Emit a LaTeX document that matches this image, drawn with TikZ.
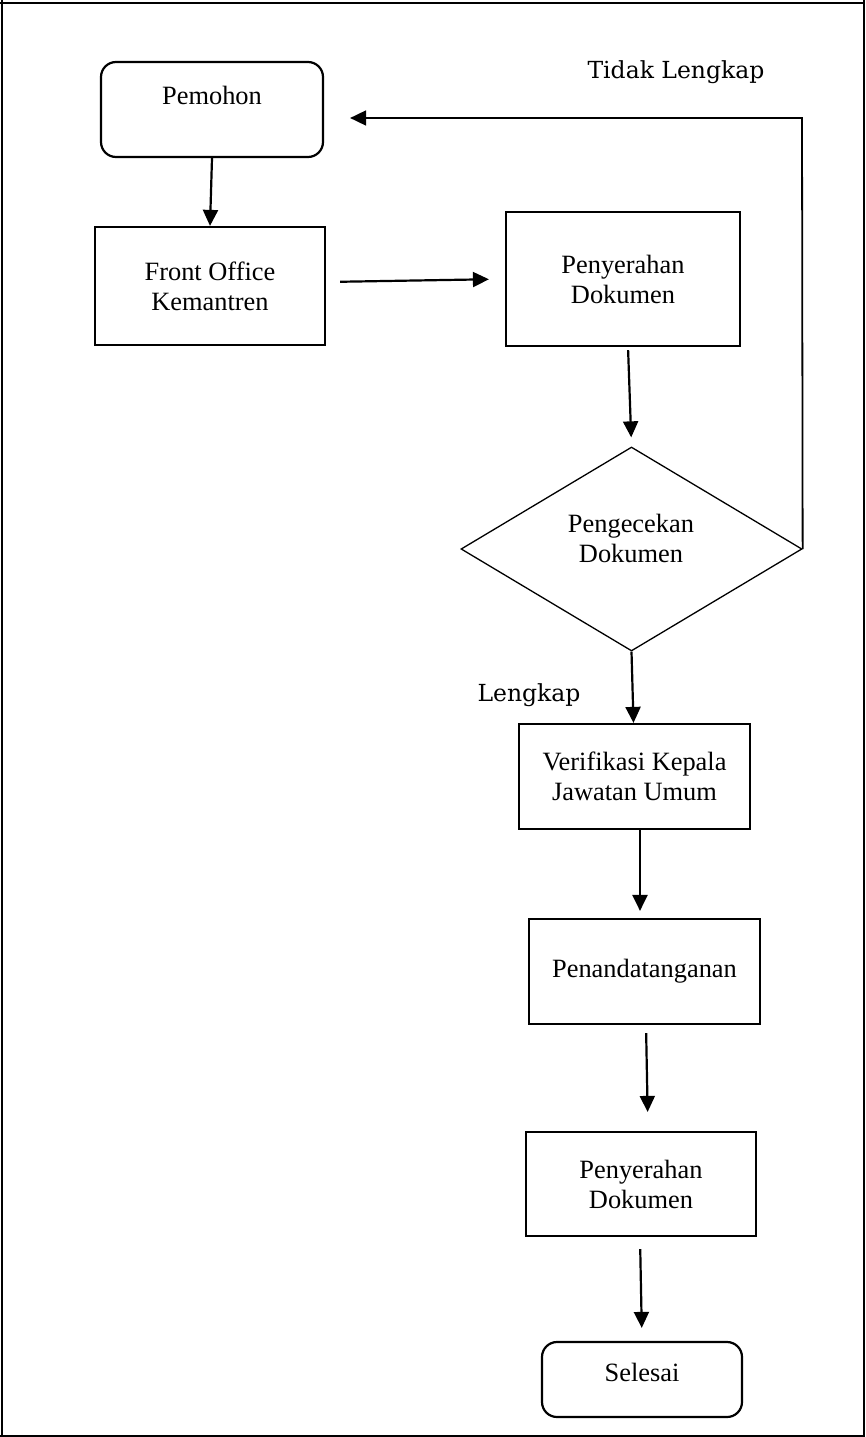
\documentclass[tikz,border=0pt]{standalone}
\usepackage{fontspec}
\setmainfont{Liberation Serif}
\newfontfamily\lblfont{DejaVu Serif}
\usetikzlibrary{shapes.geometric,arrows.meta,calc}
\begin{document}
\begin{tikzpicture}[x=1pt,y=-1pt,
  box/.style={draw, line width=2.2pt, inner sep=0pt, align=center,
    font=\fontsize{26.4}{30}\selectfont},
  rbox/.style={box, rounded corners=15pt},
  dmd/.style={draw, diamond, line width=1.3pt, inner sep=0pt, aspect=1.67},
  txt/.style={inner sep=0pt, align=center, font=\fontsize{26.4}{30}\selectfont},
  lbl/.style={inner sep=0pt, font=\lblfont\fontsize{23.5}{28}\selectfont},
  arr/.style={line width=2.2pt, -{Triangle[length=16pt,width=15pt]}},
  frm/.style={line width=2.6pt},
  frmthin/.style={line width=1.4pt}
]
\useasboundingbox (0,0) rectangle (865,1437);
% frame
\draw[frm] (0,3) -- (865,3);
\draw[frm] (2,0) -- (2,1437);
\draw[frmthin] (864,0) -- (864,1437);
\draw[frmthin] (0,1436) -- (865,1436);

% nodes
\node[rbox, minimum width=222pt, minimum height=95pt] (pem) at (212,109.5) {};
\node[txt] (pemt) at (212,95) {Pemohon};
\node[box, minimum width=230pt, minimum height=118pt] (front) at (210,286) {Front Office\\Kemantren};
\node[box, minimum width=234pt, minimum height=134pt] (pen1) at (623,279) {Penyerahan\\Dokumen};
\node[dmd, minimum width=341pt, minimum height=204pt] (dia) at (631.5,549) {};
\node[txt] (diat) at (631,538) {Pengecekan\\Dokumen};
\node[box, minimum width=231pt, minimum height=105pt] (verif) at (634.5,776.5) {Verifikasi Kepala\\Jawatan Umum};
\node[box, minimum width=231pt, minimum height=105pt] (pand) at (644.5,971.5) {Penandatanganan};
\node[box, minimum width=230pt, minimum height=104pt] (pen2) at (641,1184) {Penyerahan\\Dokumen};
\node[rbox, minimum width=200pt, minimum height=75pt] (sel) at (642,1379.5) {};
\node[txt] (selt) at (642,1372) {Selesai};

% labels
\node[lbl] (tl) at (676,72) {Tidak Lengkap};
\node[lbl] (lk) at (529,695) {Lengkap};

% connectors
\draw[arr] (pem.south) -- (front.north);
\draw[arr, shorten <=14pt, shorten >=16pt] ($(front.east)+(0,-4)$) -- (pen1.west);
\draw[arr, shorten <=3pt, shorten >=9pt] ($(pen1.south)+(5,0)$) -- (dia.north);
\draw[arr] (dia.south) -- ($(verif.north)+(-1,0)$);
\draw[arr, shorten >=7pt] ($(verif.south)+(5.5,0)$) -- ($(pand.north)+(-4.5,0)$);
\draw[arr, shorten <=8pt, shorten >=19pt] ($(pand.south)+(1.5,0)$) -- ($(pen2.north)+(7,0)$);
\draw[arr, shorten <=12pt, shorten >=13pt] ($(pen2.south)+(-1,0)$) -- (sel.north);
\coordinate (fbk) at (802,118);
\draw[line width=1.8pt, -{Triangle[length=16pt,width=15pt]}, shorten >=26pt]
  (dia.east) -- (fbk) -- (fbk -| pem.east);
\end{tikzpicture}
\end{document}
